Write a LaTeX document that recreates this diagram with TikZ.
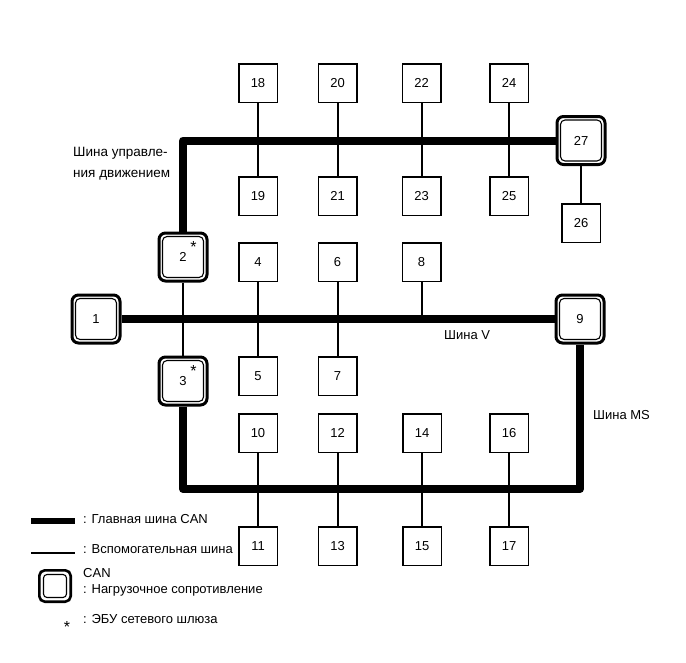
\documentclass[tikz,border=0pt]{standalone}
\usepackage{fontspec}
\setmainfont{Liberation Sans}
\begin{document}
\begin{tikzpicture}[x=1pt,y=-1pt,
  ecu/.style={draw, line width=1.5pt, minimum size=38.5pt, inner sep=0pt, fill=white, font=\fontsize{13}{15}\selectfont},
  term/.style={draw, line width=3pt, rounded corners=6.5pt, minimum size=48pt, inner sep=0pt, fill=white, font=\fontsize{13}{15}\selectfont},
  innerbox/.style={draw, line width=1.1pt, rounded corners=4.5pt},
  mainbus/.style={line width=8pt, line join=round},
  subbus/.style={line width=2pt},
  lbl/.style={anchor=west, inner sep=0pt, font=\fontsize{13}{15}\selectfont},
  star/.style={inner sep=0pt, font=\fontsize{16}{16}\selectfont}]
\useasboundingbox (0,0) rectangle (686,662);

% nodes
\node[ecu] (n18) at (258,83) {18};
\node[ecu] (n20) at (337.5,83) {20};
\node[ecu] (n22) at (421.5,83) {22};
\node[ecu] (n24) at (509,83) {24};
\node[ecu] (n19) at (258,196) {19};
\node[ecu] (n21) at (337.5,196) {21};
\node[ecu] (n23) at (421.5,196) {23};
\node[ecu] (n25) at (509,196) {25};
\node[term] (n27) at (581,140.5) {27};
\node[ecu] (n26) at (581,223) {26};
\node[term] (n2) at (183,257) {2};
\node[ecu] (n4) at (258,262) {4};
\node[ecu] (n6) at (337.5,262) {6};
\node[ecu] (n8) at (421.5,262) {8};
\node[term] (n1) at (96,319) {1};
\node[term] (n9) at (580,319) {9};
\node[term] (n3) at (183,381) {3};
\node[ecu] (n5) at (258,376) {5};
\node[ecu] (n7) at (337.5,376) {7};
\node[ecu] (n10) at (258,433) {10};
\node[ecu] (n12) at (337.5,433) {12};
\node[ecu] (n14) at (422,433) {14};
\node[ecu] (n16) at (509,433) {16};
\node[ecu] (n11) at (258,546) {11};
\node[ecu] (n13) at (337.5,546) {13};
\node[ecu] (n15) at (422,546) {15};
\node[ecu] (n17) at (509,546) {17};

\foreach \n in {n1,n2,n3,n9,n27}
  \draw[innerbox] ([shift={(5pt,-5pt)}]\n.north west) rectangle ([shift={(-5pt,5pt)}]\n.south east);

\node[star] at (193.5,247) {*};
\node[star] at (193.5,371) {*};

% main buses
\draw[mainbus] (n2.north) |- (n27.west);
\draw[mainbus] (n1.east) -- (n9.west);
\coordinate (msl) at (183,489);
\coordinate (msr) at (580,489);
\draw[mainbus] (n3.south) -- (msl) -- (msr) -- (n9.south);

% sub buses
\draw[subbus] (n18.south) -- (n19.north);
\draw[subbus] (n20.south) -- (n21.north);
\draw[subbus] (n22.south) -- (n23.north);
\draw[subbus] (n24.south) -- (n25.north);
\draw[subbus] (n27.south) -- (n26.north);
\draw[subbus] (n2.south) -- (n3.north);
\draw[subbus] (n4.south) -- (n5.north);
\draw[subbus] (n6.south) -- (n7.north);
\draw[subbus] (n8.south) -- (n8.south |- n1);
\draw[subbus] (n10.south) -- (n11.north);
\draw[subbus] (n12.south) -- (n13.north);
\draw[subbus] (n14.south) -- (n15.north);
\draw[subbus] (n16.south) -- (n17.north);

% bus labels
\node[lbl, font=\fontsize{13.5}{15}\selectfont] (lctl1) at (73,153) {Шина управле-};
\node[lbl, font=\fontsize{13.5}{15}\selectfont] (lctl2) at (73,175) {ния движением};
\node[lbl] (lv) at (444,335) {Шина V};
\node[lbl] (lms) at (593,415) {Шина MS};

% legend
\coordinate (lg1a) at (31,521); \coordinate (lg1b) at (75,521);
\draw[line width=6pt] (lg1a) -- (lg1b);
\node[lbl] (lt1) at (83,519) {: Главная шина CAN};
\coordinate (lg2a) at (31,553); \coordinate (lg2b) at (75,553);
\draw[line width=2pt] (lg2a) -- (lg2b);
\node[lbl] (lt2) at (83,549) {: Вспомогательная шина};
\node[draw, line width=2.6pt, rounded corners=5.5pt, minimum size=31.4pt, inner sep=0pt] (lgbox) at (55,586) {};
\draw[innerbox, rounded corners=3.5pt] ([shift={(5.5pt,-5.5pt)}]lgbox.north west) rectangle ([shift={(-5.5pt,5.5pt)}]lgbox.south east);
\node[lbl] (lt3) at (83,573) {CAN};
\node[lbl] (lt4) at (83,590) {: Нагрузочное сопротивление};
\node[star] (lgstar) at (67,627) {*};
\node[lbl] (lt5) at (83,619) {: ЭБУ сетевого шлюза};
\end{tikzpicture}
\end{document}
